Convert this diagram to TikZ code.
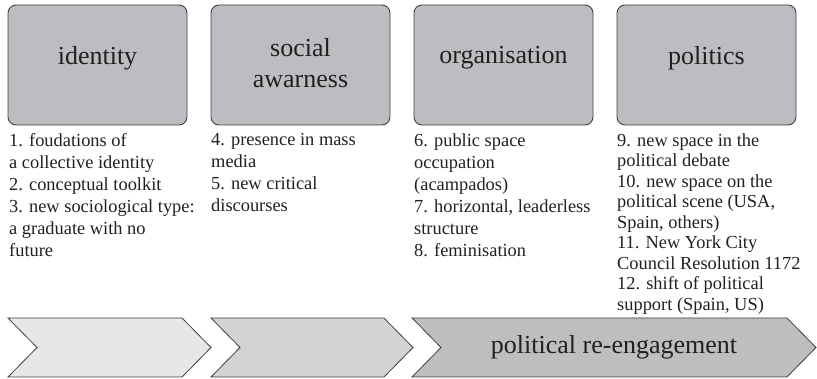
\documentclass[tikz,border=0pt]{standalone}
\usepackage{fontspec}
\setmainfont{Liberation Serif}
\usetikzlibrary{positioning}
\definecolor{boxgray}{HTML}{BCBDC0}
\definecolor{edgegray}{HTML}{414042}
\definecolor{inkgray}{HTML}{231F20}
\definecolor{chevA}{HTML}{E6E7E8}
\definecolor{chevB}{HTML}{D1D3D4}
\definecolor{chevC}{HTML}{BCBEC0}

\begin{document}
\begin{tikzpicture}[
    x=1pt, y=-1pt,
    box/.style={draw=edgegray, line width=0.9pt, fill=boxgray, minimum width=179pt, minimum height=120pt, rounded corners=8pt},
    boxlabel/.style={inner sep=0pt, align=center, text=inkgray, font=\fontsize{26}{31}\selectfont},
    items/.style={anchor=north west, inner sep=0pt, align=left, text=inkgray, font=\fontsize{18.4}{22}\selectfont},
    tightitems/.style={items, font=\fontsize{18.4}{20.5}\selectfont},
    chevron/.style={draw=edgegray, line width=0.8pt, line join=miter}
  ]
  \useasboundingbox (0,0) rectangle (817,379);

  % Stages
  \node[box] (identity) at (97.5,65) {};
  \node[box] (awareness) at (300.5,65) {};
  \node[box] (organisation) at (503.5,65) {};
  \node[box] (politics) at (706.5,65) {};

  \node[boxlabel, below=42pt of identity.north] (identity_lbl) {identity};
  \node[boxlabel, below=34pt of awareness.north] (awareness_lbl) {social\\awarness};
  \node[boxlabel, below=42pt of organisation.north] (organisation_lbl) {organisation};
  \node[boxlabel, below=42pt of politics.north] (politics_lbl) {politics};

  % Items under each stage
  \node[items] (identity_items) at (9,133.5) {1. foudations of\\a collective identity\\2. conceptual toolkit\\3. new sociological type:\\a graduate with no\\future};
  \node[items] (awareness_items) at (211,133.5) {4. presence in mass\\media\\5. new critical\\discourses};
  \node[items] (organisation_items) at (414,133.5) {6. public space\\occupation\\(acampados)\\7. horizontal, leaderless\\structure\\8. feminisation};
  \node[tightitems] (politics_items) at (617,133.5) {9. new space in the\\political debate\\10. new space on the\\political scene (USA,\\Spain, others)\\11. New York City\\Council Resolution 1172\\12. shift of political\\support (Spain, US)};

  % Process chevrons
  \foreach \xa/\xb/\col in {8/211/chevA, 211/413/chevB, 412/816/chevC}
    \draw[chevron, fill=\col] (\xa,318) -- (\xb-29,318) -- (\xb,347.5) -- (\xb-29,377) -- (\xa,377) -- (\xa+29,347.5) -- cycle;

  \node[boxlabel] (reengagement) at (614,347.5) {political re-engagement};

\end{tikzpicture}
\end{document}
